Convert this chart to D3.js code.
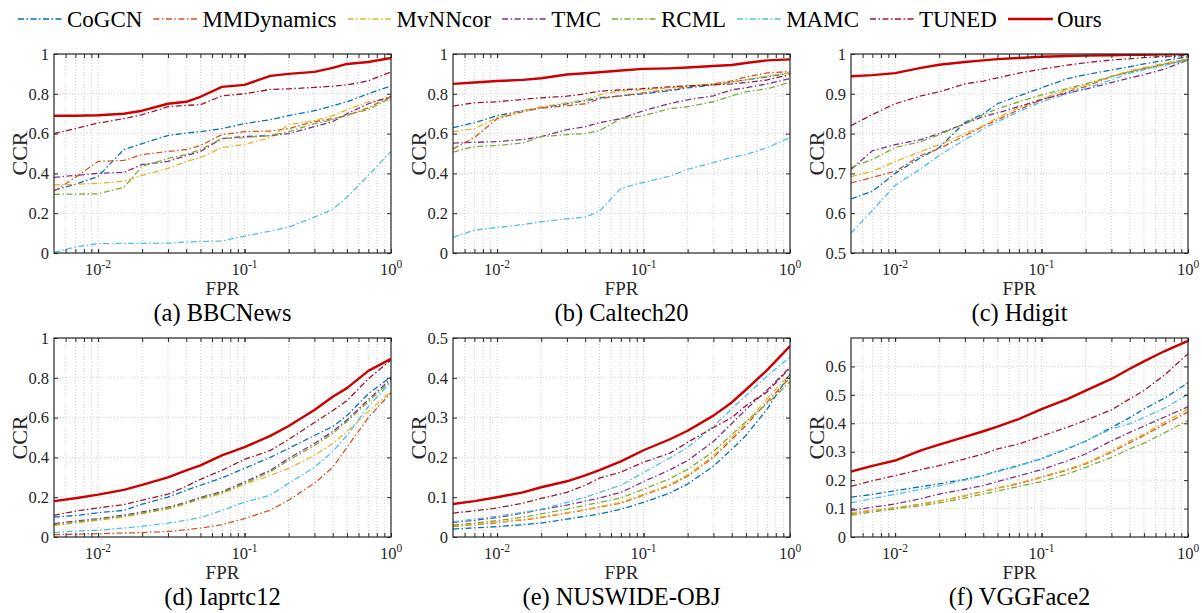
<!DOCTYPE html>
<html>
<head>
<meta charset="utf-8">
<script src="https://cdn.jsdelivr.net/npm/d3@7"></script>
<style>
  body { margin: 0; background: #fff; }
  text { font-family: "Liberation Serif", "Times New Roman", serif; }
</style>
</head>
<body>
<svg id="chart" width="1202" height="613"></svg>
<script>

// shared FPR sample points (log x axis)
var fpr = [0.005, 0.007, 0.01, 0.015, 0.02, 0.03, 0.04, 0.05, 0.07, 0.1, 0.15, 0.2, 0.3, 0.4, 0.5, 0.7, 1];

var methods = ["CoGCN", "MMDynamics", "MvNNcor", "TMC", "RCML", "MAMC", "TUNED", "Ours"];
var colors  = ["#0072BD", "#D95319", "#EDB120", "#7E2F8E", "#77AC30", "#4DBEEE", "#A2142F", "#CC0000"];

var xTickValues = [0.01, 0.1, 1];
var xTickExps   = ["-2", "-1", "0"];

// CCR values per dataset, one array per method
var bbcNews = {
  CoGCN:      [0.315, 0.345, 0.385, 0.52, 0.55, 0.59, 0.603, 0.61, 0.625, 0.65, 0.67, 0.69, 0.715, 0.74, 0.76, 0.80, 0.84],
  MMDynamics: [0.31, 0.38, 0.46, 0.465, 0.495, 0.51, 0.52, 0.54, 0.595, 0.61, 0.613, 0.625, 0.66, 0.675, 0.69, 0.73, 0.787],
  MvNNcor:    [0.342, 0.345, 0.35, 0.36, 0.39, 0.425, 0.46, 0.48, 0.53, 0.545, 0.58, 0.645, 0.665, 0.69, 0.72, 0.76, 0.775],
  TMC:        [0.38, 0.39, 0.40, 0.405, 0.445, 0.46, 0.49, 0.51, 0.575, 0.585, 0.59, 0.60, 0.635, 0.66, 0.70, 0.75, 0.787],
  RCML:       [0.295, 0.296, 0.297, 0.33, 0.435, 0.475, 0.495, 0.52, 0.575, 0.58, 0.59, 0.61, 0.65, 0.67, 0.695, 0.72, 0.78],
  MAMC:       [0.003, 0.03, 0.047, 0.048, 0.048, 0.05, 0.055, 0.058, 0.06, 0.085, 0.11, 0.13, 0.18, 0.22, 0.28, 0.39, 0.51],
  TUNED:      [0.60, 0.625, 0.653, 0.675, 0.695, 0.735, 0.742, 0.745, 0.79, 0.80, 0.822, 0.825, 0.832, 0.838, 0.845, 0.865, 0.91],
  Ours:       [0.69, 0.69, 0.692, 0.70, 0.715, 0.75, 0.76, 0.785, 0.835, 0.845, 0.89, 0.90, 0.91, 0.93, 0.95, 0.96, 0.98]
};

var caltech20 = {
  CoGCN:      [0.63, 0.655, 0.69, 0.715, 0.73, 0.75, 0.765, 0.78, 0.79, 0.80, 0.815, 0.83, 0.845, 0.86, 0.87, 0.885, 0.905],
  MMDynamics: [0.523, 0.58, 0.675, 0.71, 0.728, 0.74, 0.75, 0.775, 0.79, 0.805, 0.82, 0.835, 0.85, 0.865, 0.885, 0.905, 0.912],
  MvNNcor:    [0.61, 0.625, 0.68, 0.715, 0.735, 0.755, 0.77, 0.795, 0.815, 0.82, 0.83, 0.84, 0.85, 0.86, 0.87, 0.89, 0.905],
  TMC:        [0.552, 0.556, 0.56, 0.57, 0.585, 0.62, 0.635, 0.655, 0.675, 0.715, 0.75, 0.77, 0.79, 0.82, 0.83, 0.85, 0.876],
  RCML:       [0.507, 0.535, 0.54, 0.553, 0.585, 0.595, 0.60, 0.615, 0.675, 0.69, 0.725, 0.735, 0.76, 0.79, 0.81, 0.825, 0.858],
  MAMC:       [0.079, 0.115, 0.128, 0.143, 0.157, 0.172, 0.18, 0.21, 0.325, 0.355, 0.385, 0.42, 0.455, 0.48, 0.495, 0.53, 0.58],
  TUNED:      [0.738, 0.755, 0.76, 0.772, 0.78, 0.788, 0.80, 0.813, 0.82, 0.826, 0.835, 0.84, 0.845, 0.85, 0.856, 0.87, 0.897],
  Ours:       [0.85, 0.857, 0.864, 0.87, 0.878, 0.897, 0.903, 0.908, 0.917, 0.925, 0.928, 0.932, 0.94, 0.945, 0.955, 0.968, 0.973]
};

var hdigit = {
  CoGCN:      [0.636, 0.655, 0.70, 0.74, 0.765, 0.828, 0.85, 0.875, 0.895, 0.915, 0.938, 0.948, 0.96, 0.968, 0.975, 0.984, 0.993],
  MMDynamics: [0.676, 0.69, 0.705, 0.745, 0.762, 0.795, 0.818, 0.835, 0.86, 0.885, 0.905, 0.918, 0.943, 0.955, 0.963, 0.975, 0.987],
  MvNNcor:    [0.692, 0.705, 0.73, 0.755, 0.772, 0.80, 0.82, 0.84, 0.865, 0.888, 0.91, 0.922, 0.943, 0.958, 0.966, 0.977, 0.988],
  TMC:        [0.71, 0.757, 0.772, 0.785, 0.80, 0.825, 0.843, 0.852, 0.868, 0.885, 0.902, 0.912, 0.928, 0.94, 0.948, 0.963, 0.985],
  RCML:       [0.715, 0.735, 0.765, 0.78, 0.797, 0.825, 0.848, 0.862, 0.88, 0.897, 0.913, 0.925, 0.944, 0.955, 0.963, 0.974, 0.985],
  MAMC:       [0.55, 0.607, 0.67, 0.712, 0.745, 0.785, 0.812, 0.83, 0.855, 0.88, 0.90, 0.913, 0.935, 0.952, 0.96, 0.972, 0.984],
  TUNED:      [0.82, 0.848, 0.875, 0.895, 0.905, 0.925, 0.932, 0.94, 0.952, 0.962, 0.972, 0.978, 0.985, 0.988, 0.991, 0.994, 0.996],
  Ours:       [0.944, 0.947, 0.952, 0.965, 0.973, 0.98, 0.984, 0.987, 0.99, 0.993, 0.995, 0.996, 0.997, 0.998, 0.998, 0.999, 1.0]
};

var iaprtc12 = {
  CoGCN:      [0.10, 0.108, 0.122, 0.134, 0.165, 0.20, 0.235, 0.26, 0.297, 0.345, 0.40, 0.445, 0.51, 0.555, 0.61, 0.72, 0.805],
  MMDynamics: [0.012, 0.014, 0.017, 0.02, 0.022, 0.028, 0.036, 0.045, 0.062, 0.092, 0.135, 0.185, 0.27, 0.35, 0.45, 0.60, 0.725],
  MvNNcor:    [0.059, 0.07, 0.084, 0.10, 0.118, 0.14, 0.168, 0.19, 0.218, 0.265, 0.31, 0.345, 0.41, 0.47, 0.53, 0.63, 0.73],
  TMC:        [0.067, 0.08, 0.092, 0.11, 0.126, 0.15, 0.175, 0.20, 0.227, 0.277, 0.335, 0.395, 0.47, 0.53, 0.588, 0.69, 0.795],
  RCML:       [0.062, 0.075, 0.088, 0.105, 0.12, 0.145, 0.17, 0.195, 0.222, 0.27, 0.328, 0.385, 0.46, 0.52, 0.58, 0.68, 0.785],
  MAMC:       [0.022, 0.03, 0.034, 0.045, 0.054, 0.07, 0.084, 0.097, 0.133, 0.175, 0.21, 0.27, 0.35, 0.43, 0.51, 0.655, 0.78],
  TUNED:      [0.109, 0.13, 0.146, 0.163, 0.185, 0.215, 0.255, 0.29, 0.335, 0.39, 0.435, 0.49, 0.575, 0.635, 0.685, 0.795, 0.89],
  Ours:       [0.18, 0.195, 0.213, 0.237, 0.262, 0.30, 0.335, 0.36, 0.41, 0.452, 0.508, 0.558, 0.638, 0.705, 0.748, 0.835, 0.895]
};

var nuswide = {
  CoGCN:      [0.02, 0.023, 0.026, 0.031, 0.035, 0.045, 0.052, 0.058, 0.07, 0.087, 0.11, 0.133, 0.178, 0.22, 0.255, 0.322, 0.41],
  MMDynamics: [0.027, 0.031, 0.036, 0.043, 0.049, 0.06, 0.068, 0.075, 0.085, 0.105, 0.129, 0.153, 0.20, 0.245, 0.28, 0.34, 0.40],
  MvNNcor:    [0.028, 0.032, 0.037, 0.044, 0.05, 0.061, 0.069, 0.076, 0.087, 0.107, 0.131, 0.156, 0.204, 0.25, 0.286, 0.348, 0.41],
  TMC:        [0.037, 0.042, 0.049, 0.06, 0.069, 0.08, 0.09, 0.098, 0.112, 0.139, 0.168, 0.192, 0.24, 0.285, 0.32, 0.37, 0.426],
  RCML:       [0.03, 0.035, 0.041, 0.05, 0.058, 0.07, 0.08, 0.087, 0.098, 0.12, 0.146, 0.17, 0.215, 0.257, 0.29, 0.335, 0.39],
  MAMC:       [0.038, 0.045, 0.052, 0.062, 0.07, 0.087, 0.10, 0.112, 0.13, 0.162, 0.198, 0.225, 0.278, 0.322, 0.355, 0.405, 0.452],
  TUNED:      [0.06, 0.066, 0.073, 0.085, 0.097, 0.112, 0.13, 0.148, 0.163, 0.188, 0.21, 0.238, 0.275, 0.30, 0.33, 0.365, 0.425],
  Ours:       [0.083, 0.09, 0.10, 0.112, 0.125, 0.14, 0.155, 0.168, 0.19, 0.218, 0.245, 0.267, 0.305, 0.338, 0.37, 0.42, 0.48]
};

var vggFace2 = {
  CoGCN:      [0.14, 0.15, 0.163, 0.177, 0.187, 0.203, 0.216, 0.232, 0.252, 0.275, 0.31, 0.337, 0.385, 0.42, 0.45, 0.49, 0.543],
  MMDynamics: [0.083, 0.093, 0.103, 0.116, 0.127, 0.145, 0.16, 0.172, 0.188, 0.21, 0.235, 0.257, 0.298, 0.332, 0.357, 0.398, 0.44],
  MvNNcor:    [0.085, 0.094, 0.102, 0.115, 0.126, 0.145, 0.16, 0.173, 0.19, 0.212, 0.238, 0.26, 0.302, 0.338, 0.362, 0.405, 0.45],
  TMC:        [0.093, 0.105, 0.116, 0.135, 0.151, 0.168, 0.181, 0.195, 0.215, 0.237, 0.268, 0.292, 0.338, 0.368, 0.39, 0.423, 0.458],
  RCML:       [0.077, 0.088, 0.099, 0.11, 0.12, 0.137, 0.151, 0.162, 0.178, 0.195, 0.222, 0.245, 0.28, 0.31, 0.33, 0.368, 0.41],
  MAMC:       [0.12, 0.135, 0.15, 0.168, 0.18, 0.20, 0.216, 0.23, 0.25, 0.277, 0.312, 0.338, 0.38, 0.398, 0.42, 0.455, 0.502],
  TUNED:      [0.178, 0.198, 0.216, 0.237, 0.251, 0.275, 0.292, 0.31, 0.327, 0.355, 0.386, 0.41, 0.447, 0.486, 0.515, 0.572, 0.645],
  Ours:       [0.23, 0.25, 0.269, 0.305, 0.325, 0.352, 0.372, 0.388, 0.415, 0.45, 0.485, 0.515, 0.556, 0.592, 0.618, 0.655, 0.69]
};

var panels = [
  {title: "(a) BBCNews",     data: bbcNews,   yDomain: [0, 1],   yTicks: [0, 0.2, 0.4, 0.6, 0.8, 1],            left: 54,  top: 54,  right: 391,  bottom: 253},
  {title: "(b) Caltech20",   data: caltech20, yDomain: [0, 1],   yTicks: [0, 0.2, 0.4, 0.6, 0.8, 1],            left: 453, top: 54,  right: 790,  bottom: 253},
  {title: "(c) Hdigit",      data: hdigit,    yDomain: [0.5, 1], yTicks: [0.5, 0.6, 0.7, 0.8, 0.9, 1],          left: 851, top: 54,  right: 1188, bottom: 253},
  {title: "(d) Iaprtc12",    data: iaprtc12,  yDomain: [0, 1],   yTicks: [0, 0.2, 0.4, 0.6, 0.8, 1],            left: 54,  top: 338, right: 391,  bottom: 537},
  {title: "(e) NUSWIDE-OBJ", data: nuswide,   yDomain: [0, 0.5], yTicks: [0, 0.1, 0.2, 0.3, 0.4, 0.5],          left: 453, top: 338, right: 790,  bottom: 537},
  {title: "(f) VGGFace2",    data: vggFace2,  yDomain: [0, 0.7], yTicks: [0, 0.1, 0.2, 0.3, 0.4, 0.5, 0.6],     left: 851, top: 338, right: 1188, bottom: 537}
];

var axisColor = "#262626";
var dashDot   = "6,2.5,1.5,2.5";

var svg = d3.select("#chart");

// minor + major log positions inside the domain
var xMinor = [];
[-3, -2, -1].forEach(function(e) {
  for (var m = 1; m <= 9; m++) {
    var v = m * Math.pow(10, e);
    if (v > 0.0051 && v < 0.999) xMinor.push(v);
  }
});

function drawPanel(p, idx) {
  var w = p.right - p.left, h = p.bottom - p.top;

  var x = d3.scaleLog().domain([0.005, 1]).range([0, w]);
  var y = d3.scaleLinear().domain(p.yDomain).range([h, 0]);

  var g = svg.append("g").attr("transform", "translate(" + p.left + "," + p.top + ")");

  // dotted grid
  g.append("g").selectAll("line").data(xMinor).join("line")
    .attr("x1", function(d) { return x(d); }).attr("x2", function(d) { return x(d); })
    .attr("y1", 0).attr("y2", h)
    .attr("stroke", "#c4c4c4").attr("stroke-width", 0.8).attr("stroke-dasharray", "1,2");
  g.append("g").selectAll("line").data(p.yTicks.slice(1)).join("line")
    .attr("x1", 0).attr("x2", w)
    .attr("y1", function(d) { return y(d); }).attr("y2", function(d) { return y(d); })
    .attr("stroke", "#c4c4c4").attr("stroke-width", 0.8).attr("stroke-dasharray", "1,2");

  var clipId = "clip" + idx;
  g.append("clipPath").attr("id", clipId).append("rect").attr("width", w).attr("height", h);

  var line = d3.line()
    .x(function(d, i) { return x(fpr[i]); })
    .y(function(d) { return y(d); });

  var lines = g.append("g").attr("clip-path", "url(#" + clipId + ")");
  methods.forEach(function(m, i) {
    var ours = m === "Ours";
    lines.append("path")
      .datum(p.data[m])
      .attr("d", line)
      .attr("fill", "none")
      .attr("stroke", colors[i])
      .attr("stroke-width", ours ? 2.4 : 1.3)
      .attr("stroke-dasharray", ours ? null : dashDot)
      .attr("stroke-linejoin", "round");
  });

  // inward ticks on all four sides
  var ticksX = xMinor.concat(xTickValues);
  g.append("g").attr("transform", "translate(0," + h + ")")
    .call(d3.axisBottom(x).tickValues(ticksX).tickSize(-4).tickSizeOuter(0).tickFormat(""));
  g.append("g")
    .call(d3.axisTop(x).tickValues(ticksX).tickSize(-4).tickSizeOuter(0).tickFormat(""));
  var yAxis = g.append("g")
    .call(d3.axisLeft(y).tickValues(p.yTicks).tickSize(-4).tickSizeOuter(0).tickPadding(5)
      .tickFormat(function(d) { return String(+d.toFixed(1)); }));
  g.append("g").attr("transform", "translate(" + w + ",0)")
    .call(d3.axisRight(y).tickValues(p.yTicks).tickSize(-4).tickSizeOuter(0).tickFormat(""));

  g.selectAll(".domain").remove();
  g.selectAll(".tick line").attr("stroke", axisColor);
  yAxis.selectAll("text")
    .attr("fill", axisColor)
    .style("font-family", '"Liberation Serif", serif')
    .style("font-size", "16.5px");

  // box
  g.append("rect").attr("width", w).attr("height", h)
    .attr("fill", "none").attr("stroke", axisColor).attr("stroke-width", 1.2);

  // x tick labels 10^k
  var xl = g.append("g").selectAll("text").data(xTickValues).join("text")
    .attr("x", function(d) { return x(d); })
    .attr("y", h + 22)
    .attr("text-anchor", "middle")
    .attr("fill", axisColor)
    .style("font-size", "16.5px");
  xl.append("tspan").text("10");
  xl.append("tspan")
    .attr("dy", -7)
    .style("font-size", "11.5px")
    .text(function(d, i) { return xTickExps[i]; });

  g.append("text")
    .attr("x", w / 2).attr("y", h + 42)
    .attr("text-anchor", "middle")
    .attr("fill", axisColor)
    .style("font-size", "19px")
    .text("FPR");

  g.append("text")
    .attr("transform", "translate(-27," + (h / 2) + ") rotate(-90)")
    .attr("text-anchor", "middle")
    .attr("fill", axisColor)
    .style("font-size", "22px")
    .text("CCR");

  g.append("text")
    .attr("x", w / 2).attr("y", h + 68)
    .attr("text-anchor", "middle")
    .attr("fill", "#000")
    .style("font-size", "24.5px")
    .text(p.title);
}

panels.forEach(drawPanel);

// legend across the top
var legend = svg.append("g");
var lx = 18;
methods.forEach(function(m, i) {
  var ours = m === "Ours";
  legend.append("line")
    .attr("x1", lx).attr("x2", lx + 45)
    .attr("y1", 19).attr("y2", 19)
    .attr("stroke", colors[i])
    .attr("stroke-width", ours ? 2.6 : 1.6)
    .attr("stroke-dasharray", ours ? null : dashDot);
  var t = legend.append("text")
    .attr("x", lx + 49).attr("y", 27)
    .attr("fill", "#000")
    .style("font-size", "23px")
    .text(m);
  lx = lx + 49 + t.node().getComputedTextLength() + 11;
});

</script>
</body>
</html>
